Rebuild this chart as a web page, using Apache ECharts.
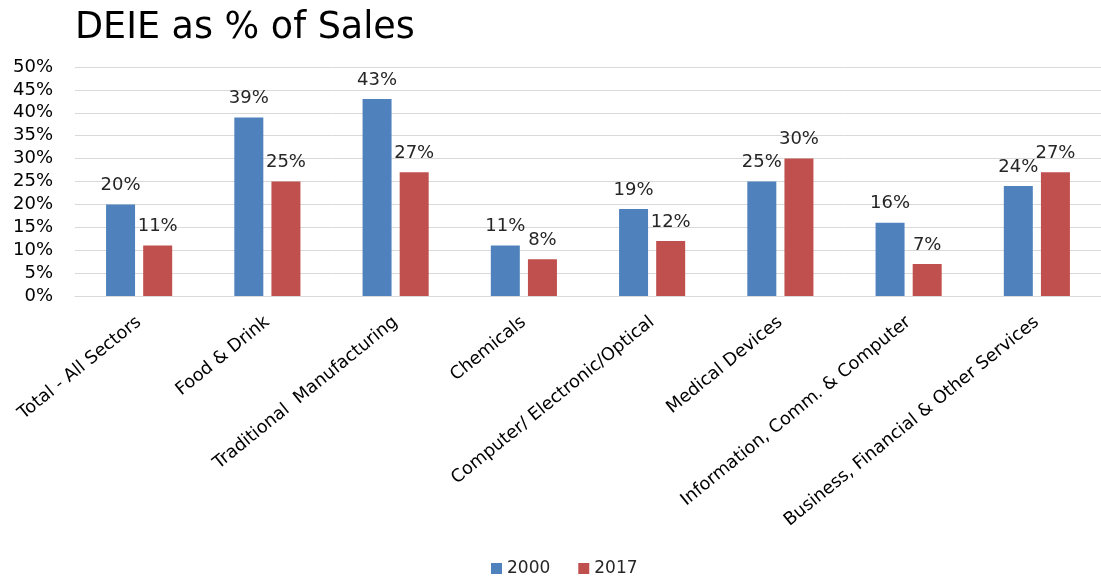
<!DOCTYPE html>
<html>
<head>
<meta charset="utf-8">
<script src="https://cdn.jsdelivr.net/npm/echarts@6/dist/echarts.min.js"></script>
<style>
  html, body { margin: 0; padding: 0; background: #fff; }
  #chart { width: 1101px; height: 577px; }
</style>
</head>
<body>
<div id="chart"></div>
<script>
// Sectors on the category axis
const categories = [
  'Total - All Sectors',
  'Food & Drink',
  'Traditional  Manufacturing',
  'Chemicals',
  'Computer/ Electronic/Optical',
  'Medical Devices',
  'Information, Comm. & Computer',
  'Business, Financial & Other Services'
];
// DEIE as a percentage of sales, by year
const values2000 = [20, 39, 43, 11, 19, 25, 16, 24];
const values2017 = [11, 25, 27, 8, 12, 30, 7, 27];
const seriesNames = ['2000', '2017'];
const yTicks = { min: 0, max: 50, interval: 5 };

const font = '"DejaVu Sans", "Noto Sans", sans-serif';
const chart = echarts.init(document.getElementById('chart'), null, { renderer: 'canvas' });

const labelStyle = {
  show: true,
  position: 'top',
  distance: 10,
  formatter: p => p.value + '%',
  fontFamily: font,
  fontSize: 18,
  color: '#262626'
};

chart.setOption({
  animation: false,
  title: {
    text: 'DEIE as % of Sales',
    left: 70,
    top: 5,
    textStyle: { fontFamily: font, fontSize: 36.5, fontWeight: 'normal', color: '#000' }
  },
  legend: {
    data: seriesNames,
    top: 555,
    left: 486,
    icon: 'rect',
    itemWidth: 11,
    itemHeight: 11,
    itemGap: 28,
    textStyle: { fontFamily: font, fontSize: 17, color: '#262626' }
  },
  grid: { left: 75, right: 0, top: 67, bottom: 281 },
  xAxis: {
    type: 'category',
    data: categories,
    axisTick: { show: false },
    axisLine: { show: true, lineStyle: { color: '#d9d9d9', width: 1 } },
    axisLabel: {
      interval: 0,
      rotate: 39,
      margin: 24,
      fontFamily: font,
      fontSize: 17.7,
      color: '#000'
    }
  },
  yAxis: {
    type: 'value',
    min: yTicks.min,
    max: yTicks.max,
    interval: yTicks.interval,
    axisLine: { show: false },
    axisTick: { show: false },
    splitLine: { lineStyle: { color: '#d9d9d9', width: 1 } },
    axisLabel: {
      formatter: v => v + '%',
      margin: 22,
      fontFamily: font,
      fontSize: 18,
      color: '#000'
    }
  },
  series: [
    {
      name: seriesNames[0],
      type: 'bar',
      data: values2000,
      barWidth: 29,
      barGap: '28%',
      itemStyle: { color: '#4F81BD' },
      label: labelStyle
    },
    {
      name: seriesNames[1],
      type: 'bar',
      data: values2017,
      barWidth: 29,
      itemStyle: { color: '#C0504D' },
      label: labelStyle
    }
  ]
});
</script>
</body>
</html>
